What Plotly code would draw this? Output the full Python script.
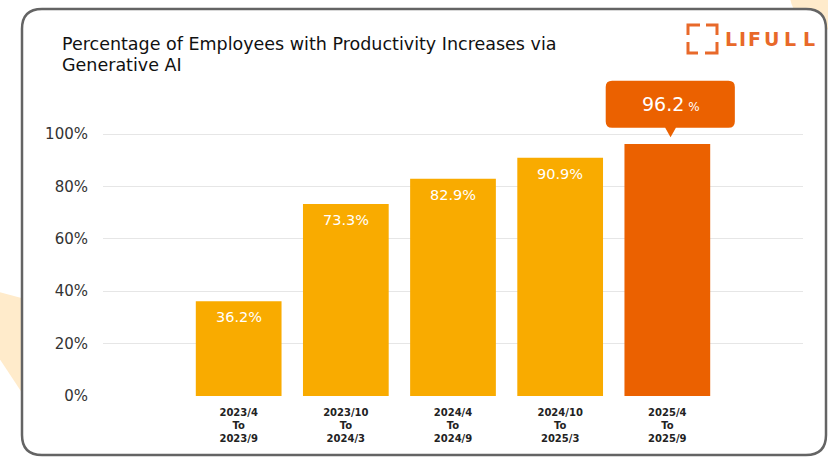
import plotly.graph_objects as go

# ---- data ----
categories = ["2023/4<br>To<br>2023/9", "2023/10<br>To<br>2024/3", "2024/4<br>To<br>2024/9",
              "2024/10<br>To<br>2025/3", "2025/4<br>To<br>2025/9"]
values = [36.2, 73.3, 82.9, 90.9, 96.2]
ytick_vals = [0, 20, 40, 60, 80, 100]
title_lines = ["Percentage of Employees with Productivity Increases via", "Generative AI"]

W, H = 828, 457
ML, MR, MT, MB = 103, 25, 70, 61
PW, PH = W - ML - MR, H - MT - MB
X0, X1 = -1.266, 5.266
YTOP = PH / 2.62

def px(x):
    return (x - ML) / PW

def py(y):
    return (H - MB - y) / PH

def rrect_path(x0, y0, x1, y1, r):
    def P(x, y):
        return f"{px(x):.5f},{py(y):.5f}"
    return (f"M {P(x0 + r, y0)} L {P(x1 - r, y0)} Q {P(x1, y0)} {P(x1, y0 + r)} "
            f"L {P(x1, y1 - r)} Q {P(x1, y1)} {P(x1 - r, y1)} L {P(x0 + r, y1)} "
            f"Q {P(x0, y1)} {P(x0, y1 - r)} L {P(x0, y0 + r)} Q {P(x0, y0)} {P(x0 + r, y0)} Z")

def poly_path(points):
    return "M " + " L ".join(f"{px(x):.5f},{py(y):.5f}" for x, y in points) + " Z"

YELLOW = "#F9AB00"
ORANGE = "#EB6100"
LOGO = "#E8692A"
FONT = "DejaVu Sans"

colors = [YELLOW] * (len(values) - 1) + [ORANGE]
xs = list(range(len(values)))

fig = go.Figure()
fig.add_trace(go.Bar(x=xs, y=values, width=0.8, marker=dict(color=colors, line=dict(width=0)),
                     hoverinfo="skip"))

shapes = []
# background peach blobs
shapes.append(dict(type="path", xref="paper", yref="paper", layer="below",
                   path=poly_path([(-5, 291), (40, 303), (40, 420), (-5, 352)]),
                   fillcolor="#FFEBCB", line=dict(width=0)))
shapes.append(dict(type="circle", xref="paper", yref="paper", layer="below",
                   x0=px(790), x1=px(880), y0=py(30), y1=py(-40),
                   fillcolor="#FFEBCB", line=dict(width=0)))
# card
shapes.append(dict(type="path", xref="paper", yref="paper", layer="below",
                   path=rrect_path(22, 9, 826, 455, 20),
                   fillcolor="white", line=dict(color="#646464", width=2.5)))

# logo brackets
def seg(points):
    return dict(type="path", xref="paper", yref="paper",
                path="M " + " L ".join(f"{px(x):.5f},{py(y):.5f}" for x, y in points),
                line=dict(color=LOGO, width=3), fillcolor="rgba(0,0,0,0)")
shapes += [
    seg([(688, 35), (688, 25), (700, 25)]),
    seg([(706, 25), (717, 25), (717, 35)]),
    seg([(688, 42), (688, 53), (698, 53)]),
    seg([(705, 53), (717, 53), (717, 42)]),
]

# callout for last value
xl = len(values) - 1
v = values[-1]
bx0, bx1 = xl - 0.575, xl + 0.63
by0, by1 = v + 6.2, v + 24.1
rx, ry = 0.06, 2.4
tip_y = v + 2.6
cx = xl + 0.03
callout = (f"M {bx0 + rx},{by1} L {bx1 - rx},{by1} Q {bx1},{by1} {bx1},{by1 - ry} "
           f"L {bx1},{by0 + ry} Q {bx1},{by0} {bx1 - rx},{by0} "
           f"L {cx + 0.05},{by0} L {cx},{tip_y} L {cx - 0.05},{by0} "
           f"L {bx0 + rx},{by0} Q {bx0},{by0} {bx0},{by0 + ry} L {bx0},{by1 - ry} "
           f"Q {bx0},{by1} {bx0 + rx},{by1} Z")
shapes.append(dict(type="path", xref="x", yref="y", path=callout,
                   fillcolor=ORANGE, line=dict(width=0)))

annotations = []
# title (two lines)
for line, yc in zip(title_lines, [44, 64.5]):
    annotations.append(dict(xref="paper", yref="paper", x=px(60), y=py(yc), xanchor="left",
                            yanchor="middle", text=line, showarrow=False, align="left",
                            font=dict(family=FONT, size=17.5, color="#111111")))
# logo letters
for ch, cxp in zip("LIFULL", [731, 742, 754, 771, 790, 809]):
    annotations.append(dict(xref="paper", yref="paper", x=px(cxp), y=py(39), xanchor="center",
                            yanchor="middle", text=f"<b>{ch}</b>", showarrow=False,
                            font=dict(family="DejaVu Sans", size=19, color=LOGO)))
# bar value labels
for i, val in enumerate(values[:-1]):
    annotations.append(dict(x=i, y=val, xref="x", yref="y", yanchor="middle", yshift=-16,
                            text=f"{val}%", showarrow=False,
                            font=dict(family=FONT, size=14.5, color="white")))
# callout label
annotations.append(dict(x=cx, y=(by0 + by1) / 2, xref="x", yref="y", yanchor="middle",
                        text=f"{v}<span style='font-size:12px'> %</span>", showarrow=False,
                        font=dict(family=FONT, size=19, color="white")))

fig.update_layout(
    width=W, height=H,
    margin=dict(l=ML, r=MR, t=MT, b=MB),
    paper_bgcolor="white", plot_bgcolor="rgba(0,0,0,0)",
    showlegend=False,
    shapes=shapes, annotations=annotations,
    xaxis=dict(range=[X0, X1], tickvals=xs, ticktext=categories, showgrid=False, zeroline=False,
               showline=False, ticks="", ticklabelstandoff=9,
               tickfont=dict(family=FONT, size=10, color="#222222", weight="bold"),
               fixedrange=True),
    yaxis=dict(range=[0, YTOP], tickvals=ytick_vals, ticktext=[f"{t}%" for t in ytick_vals],
               showgrid=True, gridcolor="#E6E6E6", gridwidth=1, zeroline=False, showline=False,
               ticks="", ticklabelstandoff=14, tickfont=dict(family=FONT, size=15, color="#333333"),
               fixedrange=True),
)

fig.write_html("out.html")
